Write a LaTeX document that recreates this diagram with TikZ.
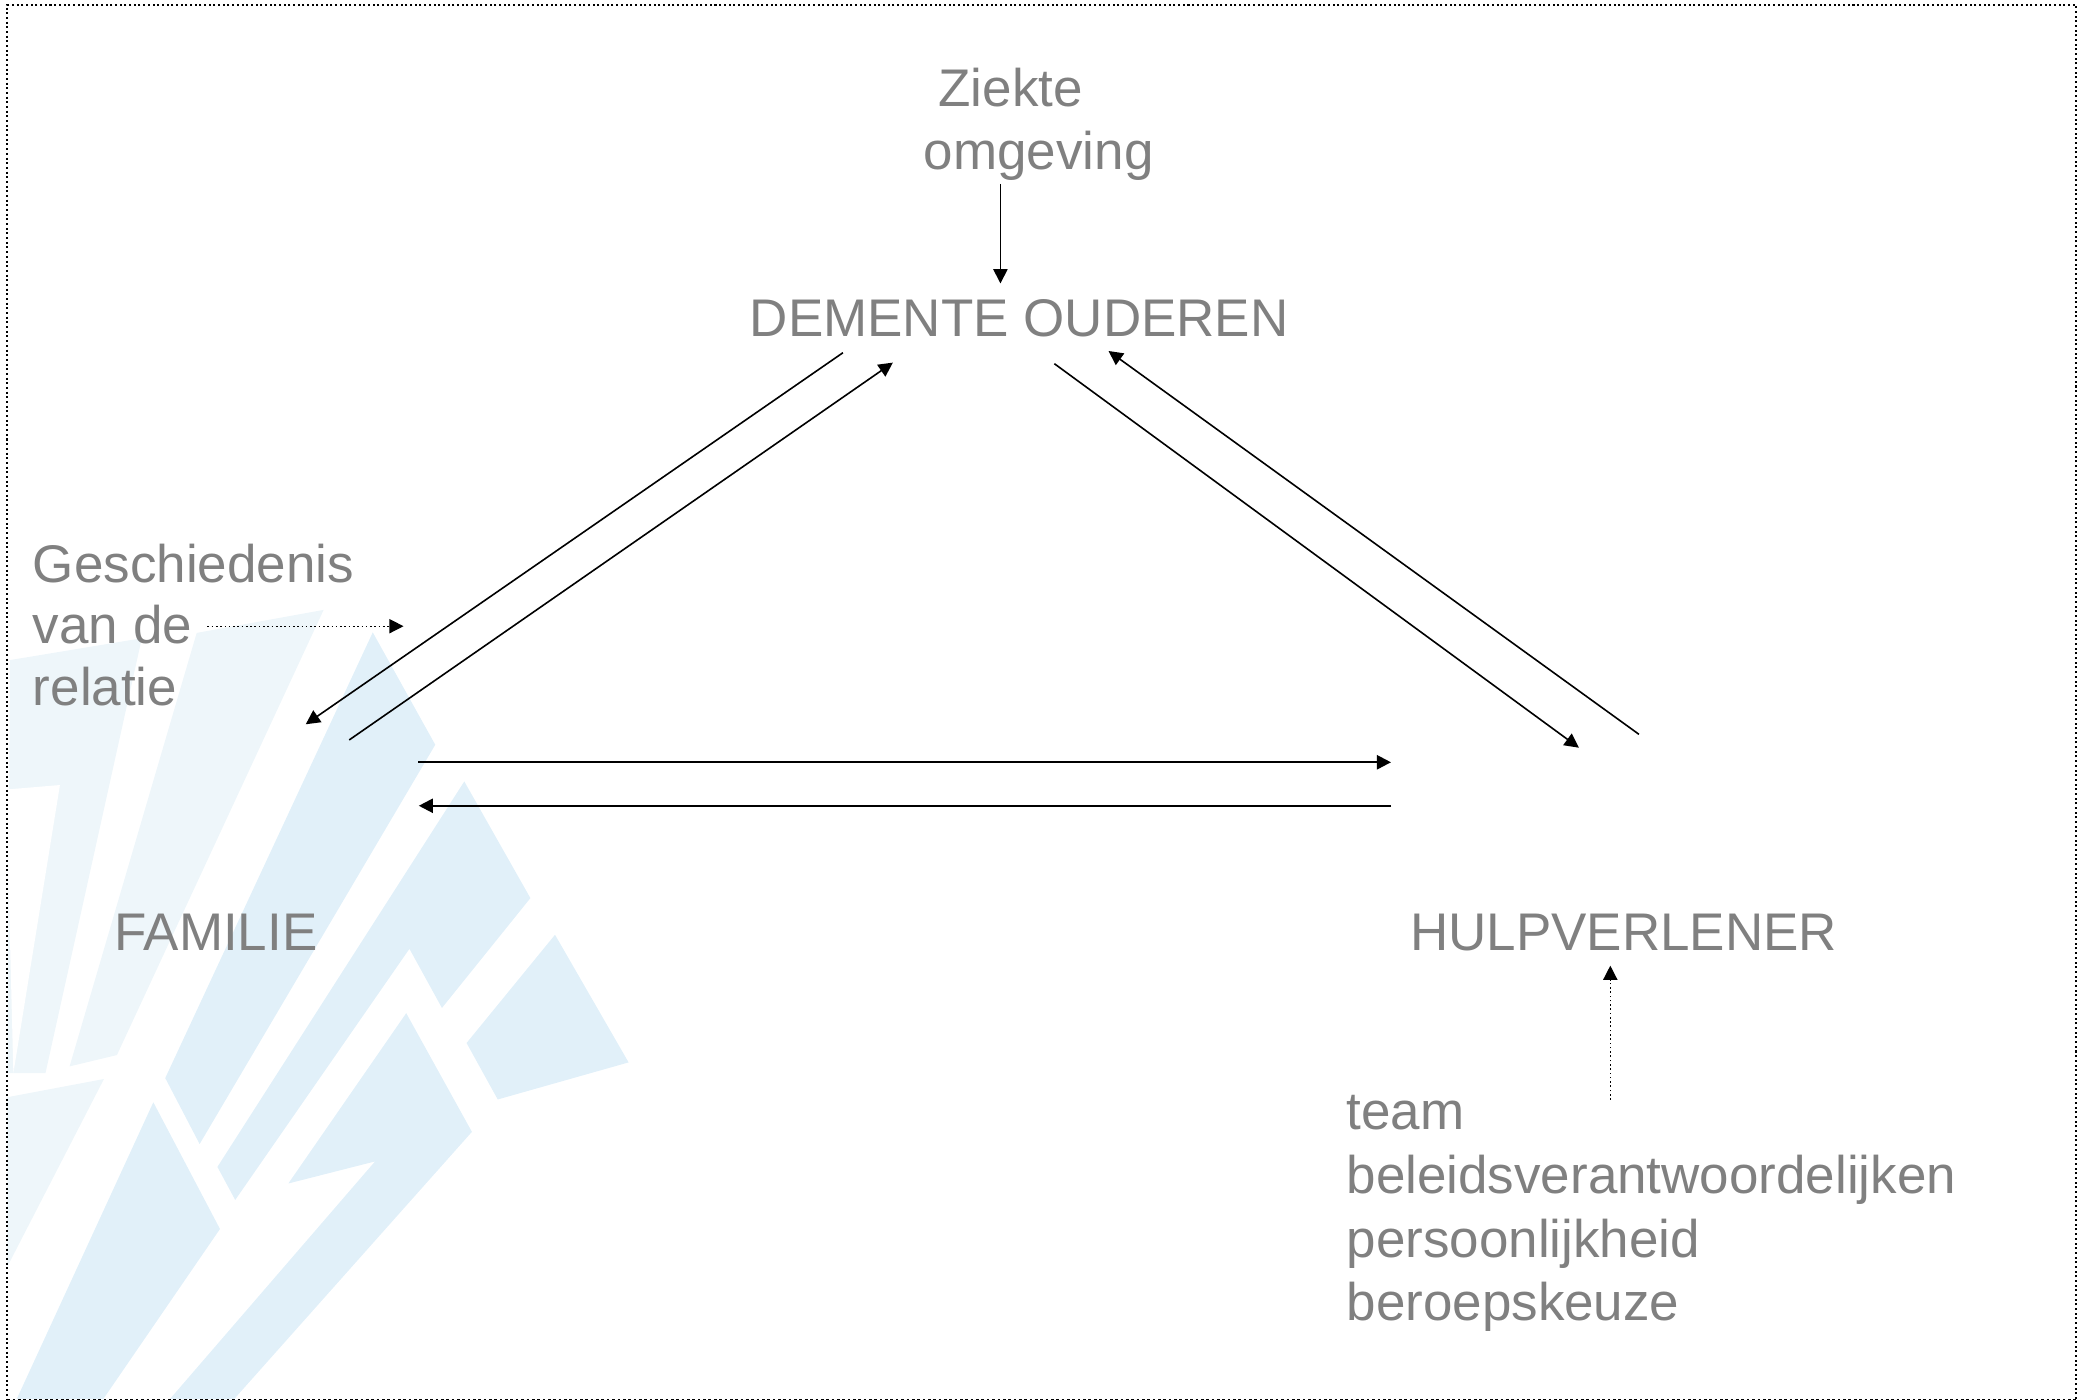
\documentclass[tikz,border=0pt]{standalone}
\usepackage{fontspec}
\setmainfont{Liberation Sans}
\usetikzlibrary{arrows.meta}
\definecolor{txtgray}{RGB}{128,128,128}
\definecolor{blueA}{RGB}{225,240,249}
\definecolor{blueB}{RGB}{238,246,250}
\begin{document}
\begin{tikzpicture}[x=0.5pt,y=-0.5pt,
  lbl/.style={anchor=base west,inner sep=0pt,text=txtgray,font=\fontsize{19.8}{23.6}\selectfont},
  conn/.style={line width=0.6pt,-{Triangle[length=5.3pt,width=5.3pt]}},
  hconn/.style={conn,line width=0.8pt},
  dconn/.style={conn,densely dotted,line width=0.5pt},
  pale/.style={fill=blueB,draw=none},
  bluish/.style={fill=blueA,draw=none}]
\useasboundingbox (0,0) rectangle (1568,1046.3);

% background decoration
\fill[pale] (7.5,493.3) -- (106,477) -- (34,802) -- (5.5,802) -- cycle;
\fill[white] (5.5,590) -- (44.8,586.7) -- (10,802) -- (5.5,625) -- cycle;
\fill[pale] (147,473) -- (241.9,455.8) -- (87.4,788.5) -- (52,797) -- cycle;
\fill[pale] (5.5,820) -- (77.7,806.4) -- (5.5,946.6) -- cycle;
\fill[bluish] (278.6,472.6) -- (325.3,556.6) -- (149.2,855) -- (123.5,805.7) -- cycle;
\fill[bluish] (347,584) -- (396.4,671.2) -- (330.3,753.3) -- (306,709.1) -- (175.8,896.8) -- (162.5,872.1) -- cycle;
\fill[bluish] (414.8,698.6) -- (469.8,794) -- (372,821.7) -- (348.7,779.5) -- cycle;
\fill[bluish] (303.6,757.2) -- (352.7,845.9) -- (175,1045.6) -- (127,1045.6) -- (280.3,868) -- (215.5,884.5) -- cycle;
\fill[bluish] (114.6,823.8) -- (164.4,918.5) -- (77.2,1045.6) -- (12.5,1045.6) -- cycle;

% frame
\draw[densely dotted,line width=0.75pt] (1551.6,1045.6) -- (1551.6,3.7) -- (5.5,3.7) -- (5.5,1045.6);
\draw[dash pattern=on 1pt off 1pt,line width=0.4pt] (5.5,1045.6) -- (1551.6,1045.6);

% texts
\node[lbl] (zk1) at (701,79.7) {Ziekte};
\node[lbl] (zk2) at (690,127) {omgeving};
\node[lbl] (do) at (560,251.6) {DEMENTE OUDEREN};
\node[lbl] (g1) at (24.2,435) {Geschiedenis};
\node[lbl] (g2) at (24.2,481) {van de};
\node[lbl] (g3) at (24.2,527) {relatie};
\node[lbl] (fam) at (85,710.2) {FAMILIE};
\node[lbl] (hulp) at (1053.5,710.5) {HULPVERLENER};
\node[lbl] (t1) at (1006,844.5) {team};
\node[lbl] (t2) at (1006,891.9) {beleidsverantwoordelijken};
\node[lbl] (t3) at (1006,939.7) {persoonlijkheid};
\node[lbl] (t4) at (1006,987) {beroepskeuze};

% connector end points
\coordinate (zkOut) at (747.7,137.5);
\coordinate (doIn) at (747.7,211.8);
\coordinate (doFamOut) at (630,263.6);
\coordinate (famIn) at (228.5,541.3);
\coordinate (famDoOut) at (261,553);
\coordinate (doFamIn) at (667.3,271);
\coordinate (doHulpOut) at (788,271.8);
\coordinate (hulpIn) at (1180,558.8);
\coordinate (hulpDoOut) at (1224.9,548.8);
\coordinate (doHulpIn) at (828.5,262.3);
\coordinate (famHulpOut) at (312.5,569.7);
\coordinate (hulpHIn) at (1039.6,569.7);
\coordinate (hulpHOut) at (1039.6,602.2);
\coordinate (famHIn) at (313,602.2);
\coordinate (gOut) at (155,468);
\coordinate (gIn) at (301.6,468);
\coordinate (tOut) at (1203.5,822);
\coordinate (tIn) at (1203.5,721.7);

% connectors
\draw[conn] (zkOut) -- (doIn);
\draw[conn] (doFamOut) -- (famIn);
\draw[conn] (famDoOut) -- (doFamIn);
\draw[conn] (doHulpOut) -- (hulpIn);
\draw[conn] (hulpDoOut) -- (doHulpIn);
\draw[hconn] (famHulpOut) -- (hulpHIn);
\draw[hconn] (hulpHOut) -- (famHIn);
\draw[dconn] (gOut) -- (gIn);
\draw[dconn] (tOut) -- (tIn);
\end{tikzpicture}
\end{document}
